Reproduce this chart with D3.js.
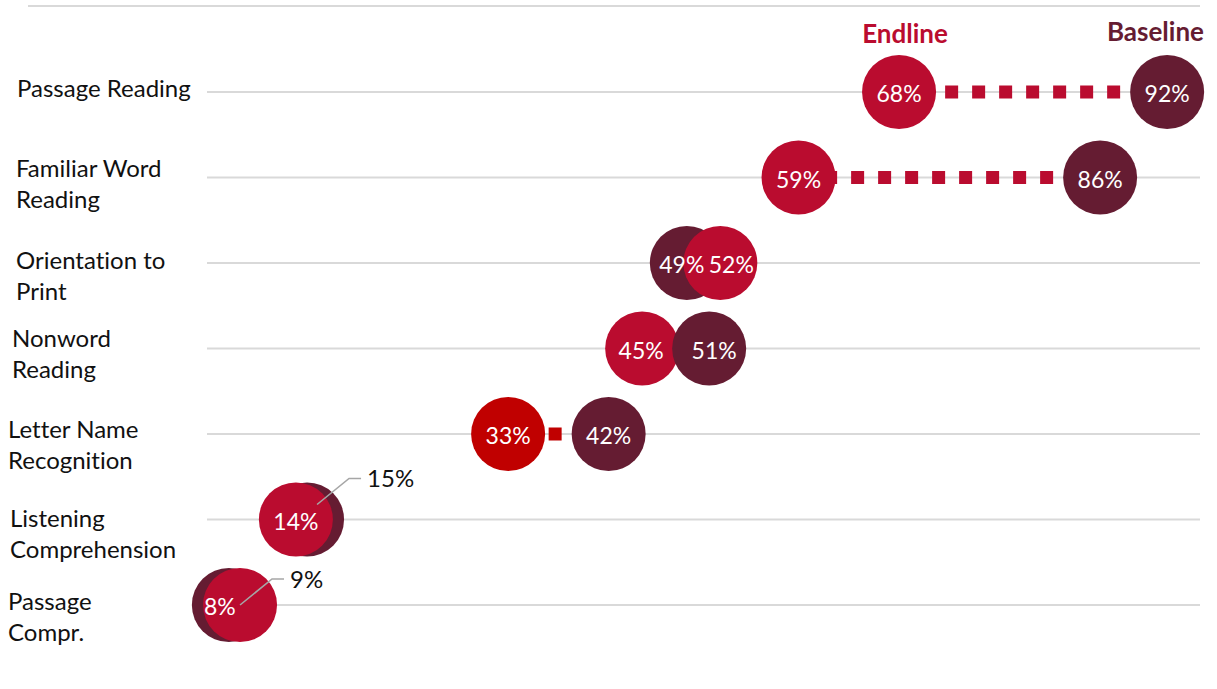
<!DOCTYPE html>
<html>
<head>
<meta charset="utf-8">
<script src="https://cdn.jsdelivr.net/npm/d3@7"></script>
<style>
  html, body { margin: 0; padding: 0; background: #fff; }
  svg { display: block; font-family: "Lato", "Open Sans", sans-serif; font-variant-ligatures: none; }
</style>
</head>
<body>
<svg id="chart" width="1217" height="689"></svg>
<script>
// Reading assessment results: share of pupils, baseline vs endline
const categories = [
  ["Passage Reading"],
  ["Familiar Word", "Reading"],
  ["Orientation to", "Print"],
  ["Nonword", "Reading"],
  ["Letter Name", "Recognition"],
  ["Listening", "Comprehension"],
  ["Passage", "Compr."]
];
const baseline = [92, 86, 49, 51, 42, 15, 8];
const endline  = [68, 59, 52, 45, 33, 14, 9];
const seriesNames = ["Endline", "Baseline"];

// which series sits on top where circles overlap
const topSeries = ["endline", "endline", "endline", "baseline", "endline", "endline", "endline"];
// rows whose label for one series sits outside the circles with a leader line
const calloutRows = { 5: "baseline", 6: "endline" };

const COLOR_END = "#BA0C2F";
const COLOR_END_ALT = "#C00000";
const COLOR_BASE = "#651C32";
const endColors = [COLOR_END, COLOR_END, COLOR_END, COLOR_END, COLOR_END_ALT, COLOR_END, COLOR_END];

// layout nudges: category label placement and value-label shifts where circles overlap
const labelX = [17, 16, 16, 12, 8, 10, 8];
const labelDy = [-5, -11, -4, -12, -6, -3, -5];
const baseShift = [0, 0, -5, 5, 0, 0, -9];
const endShift  = [0, 0, 11, -1, 0, 0, 0];

const svg = d3.select("#chart");
const R = 37;

const x = d3.scaleLinear().domain([0, 100]).range([139.5, 1256.5]);
const y = d3.scalePoint().domain(d3.range(categories.length)).range([92, 605]);

// top rule
svg.append("line")
  .attr("x1", 28).attr("x2", 1200).attr("y1", 6).attr("y2", 6)
  .attr("stroke", "#D9D9D9").attr("stroke-width", 2);

// row gridlines
svg.append("g").selectAll("line")
  .data(categories)
  .join("line")
  .attr("x1", 207).attr("x2", 1200)
  .attr("y1", (d, i) => y(i)).attr("y2", (d, i) => y(i))
  .attr("stroke", "#D9D9D9").attr("stroke-width", 2);

// category labels
const lab = svg.append("g").selectAll("text")
  .data(categories)
  .join("text")
  .attr("x", (d, i) => labelX[i])
  .attr("y", (d, i) => y(i) + labelDy[i])
  .attr("fill", "#111")
  .attr("font-size", 24)
  .attr("dominant-baseline", "central");
lab.selectAll("tspan")
  .data(d => d)
  .join("tspan")
  .attr("x", function () { return d3.select(this.parentNode).attr("x"); })
  .attr("dy", (d, j) => j === 0 ? 0 : 31)
  .text(d => d);

// dotted connectors, patterned out from the baseline centre
svg.append("g").selectAll("line")
  .data(categories.map((c, i) => i).filter(i => baseline[i] - endline[i] > 2 * R / (x(1) - x(0))))
  .join("line")
  .attr("x1", i => x(baseline[i])).attr("x2", i => x(endline[i]))
  .attr("y1", i => y(i)).attr("y2", i => y(i))
  .attr("stroke", i => endColors[i])
  .attr("stroke-width", 13)
  .attr("stroke-dasharray", "13 14")
  .attr("stroke-dashoffset", 7);

// circles: the bottom series first, then the top one
const rows = categories.map((c, i) => i);
const circles = [];
rows.forEach(i => {
  const b = { row: i, series: "baseline", value: baseline[i], color: COLOR_BASE, shift: baseShift[i] };
  const e = { row: i, series: "endline", value: endline[i], color: endColors[i], shift: endShift[i] };
  if (topSeries[i] === "endline") circles.push(b, e); else circles.push(e, b);
});

svg.append("g").selectAll("circle")
  .data(circles)
  .join("circle")
  .attr("cx", d => x(d.value))
  .attr("cy", d => y(d.row))
  .attr("r", R)
  .attr("fill", d => d.color);

// in-circle value labels, kept above every circle
svg.append("g").selectAll("text")
  .data(circles.filter(d => calloutRows[d.row] !== d.series))
  .join("text")
  .attr("x", d => x(d.value) + d.shift)
  .attr("y", d => y(d.row) + 1)
  .attr("text-anchor", "middle")
  .attr("dominant-baseline", "central")
  .attr("fill", "#fff")
  .attr("font-size", 23)
  .text(d => d.value + "%");

// callout labels with leader lines
const callouts = circles.filter(d => calloutRows[d.row] === d.series);
const anchor = d => [x(d.value) + (d.series === "baseline" ? 10 : 0), y(d.row) - (d.series === "baseline" ? 15 : 0)];
const cg = svg.append("g").selectAll("g").data(callouts).join("g");
cg.append("polyline")
  .attr("points", d => {
    const [cx, cy] = anchor(d);
    return [[cx, cy], [cx + 32, cy - 26], [cx + 44, cy - 26]].map(p => p.join(",")).join(" ");
  })
  .attr("fill", "none")
  .attr("stroke", "#A6A6A6")
  .attr("stroke-width", 1.6);
cg.append("text")
  .attr("x", d => anchor(d)[0] + 50)
  .attr("y", d => anchor(d)[1] - 27)
  .attr("dominant-baseline", "central")
  .attr("fill", "#111")
  .attr("font-size", 24)
  .text(d => d.value + "%");

// series headers
svg.append("text")
  .attr("x", x(endline[0]) + 6).attr("y", 33)
  .attr("text-anchor", "middle").attr("dominant-baseline", "central")
  .attr("font-size", 26).attr("font-weight", "bold")
  .attr("fill", COLOR_END)
  .text(seriesNames[0]);
svg.append("text")
  .attr("x", 1204).attr("y", 31)
  .attr("text-anchor", "end").attr("dominant-baseline", "central")
  .attr("font-size", 26).attr("font-weight", "bold")
  .attr("fill", COLOR_BASE)
  .text(seriesNames[1]);
</script>
</body>
</html>
